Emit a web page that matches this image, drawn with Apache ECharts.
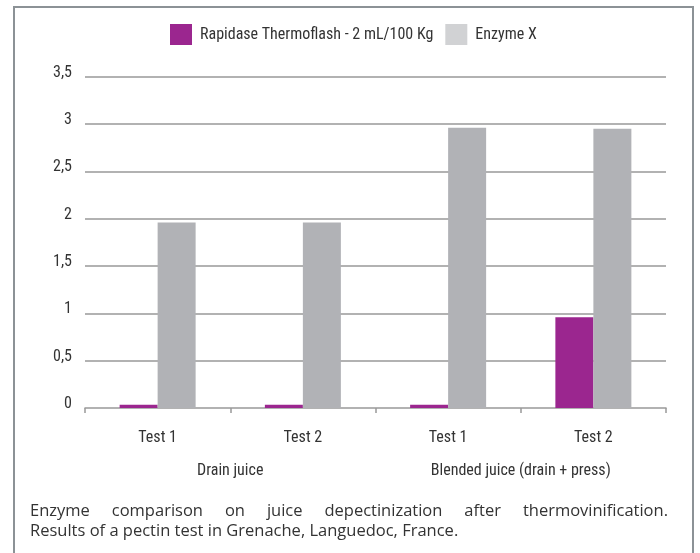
<!DOCTYPE html>
<html>
<head>
<meta charset="utf-8">
<script src="https://cdn.jsdelivr.net/npm/echarts@6/dist/echarts.min.js"></script>
<style>
html,body{margin:0;padding:0;background:#fff;}
#chart{width:700px;height:553px;}
</style>
</head>
<body>
<div id="chart"></div>
<script>
var tests = ['Test 1', 'Test 2', 'Test 1', 'Test 2'];
var groups = ['Drain juice', 'Blended juice (drain + press)'];
var seriesNames = ['Rapidase Thermoflash - 2 mL/100 Kg', 'Enzyme X'];
var rapidase = [0.035, 0.035, 0.035, 0.96];
var enzymeX = [1.96, 1.96, 2.96, 2.95];
var yTicks = [0, 0.5, 1, 1.5, 2, 2.5, 3, 3.5];
var captionLines = [
  'Enzyme comparison on juice depectinization after thermovinification.',
  'Results of a pectin test in Grenache, Languedoc, France.'
];

var condensed = "'Liberation Sans Narrow', 'Roboto Condensed', 'Noto Sans', sans-serif";
var captionFont = "'Open Sans', 'Noto Sans', sans-serif";
var purple = '#9b268f', gray = '#b1b2b6', legendGray = '#d1d2d4';

var chart = echarts.init(document.getElementById('chart'), null, {renderer: 'canvas'});

var captionSize = 16.5;
var ctx = document.createElement('canvas').getContext('2d');
ctx.font = captionSize + 'px ' + captionFont;
var graphics = [{
  type: 'rect', shape: {x: 14, y: 7, width: 679, height: 570},
  style: {fill: 'none', stroke: '#8c9296', lineWidth: 2}, silent: true
}];
var capLeft = 30, capRight = 668;
captionLines.forEach(function (line, li) {
  var y = 511 + li * 20;
  if (li === 0) {
    var words = line.split(' ');
    var widths = words.map(function (w) { return ctx.measureText(w).width; });
    var total = widths.reduce(function (a, b) { return a + b; }, 0);
    var gap = (capRight - capLeft - total) / (words.length - 1);
    var x = capLeft;
    words.forEach(function (w, i) {
      graphics.push({type: 'text', x: x, y: y, style: {text: w, font: captionSize + 'px ' + captionFont, fill: '#333', verticalAlign: 'middle'}});
      x += widths[i] + gap;
    });
  } else {
    graphics.push({type: 'text', x: capLeft, y: y, style: {text: line, font: captionSize + 'px ' + captionFont, fill: '#333', verticalAlign: 'middle'}});
  }
});

var option = {
  backgroundColor: '#fff',
  animation: false,
  textStyle: {fontFamily: condensed},
  legend: {
    top: 19, left: 165,
    itemWidth: 22, itemHeight: 21, itemGap: 12,
    icon: 'rect',
    textStyle: {fontFamily: condensed, fontSize: 16, color: '#333', padding: [0, 0, 0, 3]},
    data: [
      {name: seriesNames[0], itemStyle: {color: purple}},
      {name: seriesNames[1], itemStyle: {color: legendGray}}
    ]
  },
  grid: {left: 85, right: 34, top: 76.7, bottom: 145, containLabel: false},
  xAxis: [{
    type: 'category', data: tests, position: 'bottom', offset: 5,
    axisLine: {show: true, lineStyle: {color: '#999', width: 1.5}},
    axisTick: {show: true, length: 5, lineStyle: {color: '#999', width: 1.5}},
    axisLabel: {margin: 17, fontSize: 16, color: '#333', fontFamily: condensed}
  }, {
    type: 'category', data: groups, position: 'bottom', offset: 47,
    axisLine: {show: false}, axisTick: {show: false},
    axisLabel: {margin: 8, fontSize: 16, color: '#333', fontFamily: condensed}
  }],
  yAxis: {
    type: 'value', min: 0, max: 3.5, interval: 0.5,
    axisLine: {show: false}, axisTick: {show: false},
    splitLine: {show: true, showMinLine: false, lineStyle: {color: '#999', width: 1.5}},
    axisLabel: {
      margin: 13, fontSize: 16, color: '#333', fontFamily: condensed,
      verticalAlign: 'bottom', lineHeight: 8,
      formatter: function (v) { return String(v).replace('.', ','); }
    }
  },
  series: [{
    name: seriesNames[0], type: 'bar', xAxisIndex: 0, data: rapidase,
    barWidth: 38, barGap: '0%', itemStyle: {color: purple}
  }, {
    name: seriesNames[1], type: 'bar', xAxisIndex: 0, data: enzymeX,
    barWidth: 38, barGap: '0%', itemStyle: {color: gray}
  }],
  graphic: graphics
};
chart.setOption(option);
</script>
</body>
</html>
